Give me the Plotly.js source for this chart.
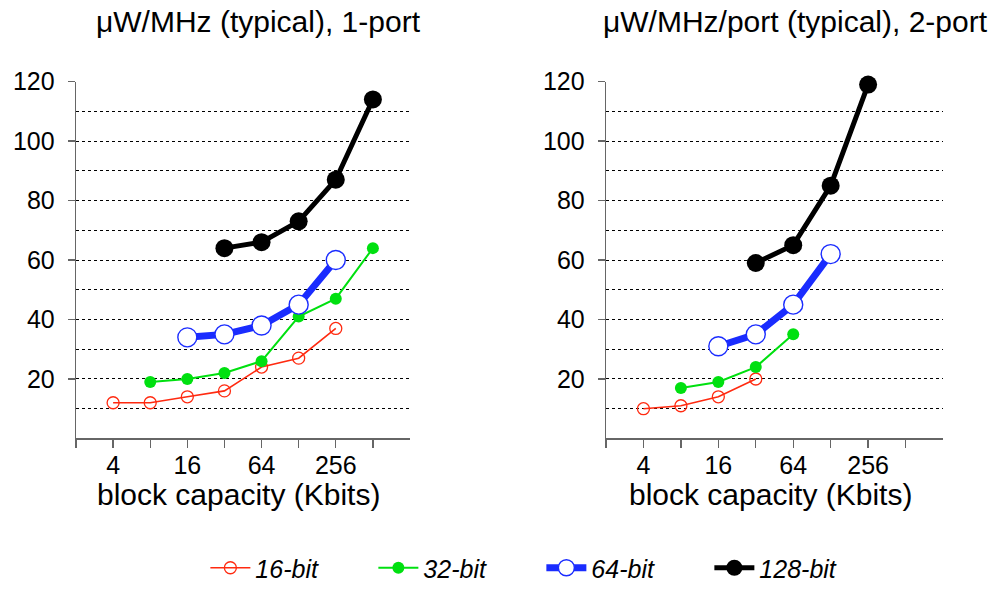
<!DOCTYPE html>
<html>
<head>
<meta charset="utf-8">
<script src="https://cdn.plot.ly/plotly-3.0.1.min.js"></script>
<style>html,body{margin:0;padding:0;background:#fff;}#chart{width:997px;height:591px;}</style>
</head>
<body>
<div id="chart"></div>
<script>
// Block capacity in Kbits (log2 axis)
const cap1 = {
  w16:  [4, 8, 16, 32, 64, 128, 256],
  w32:  [8, 16, 32, 64, 128, 256, 512],
  w64:  [16, 32, 64, 128, 256],
  w128: [32, 64, 128, 256, 512]
};
const cap2 = {
  w16:  [4, 8, 16, 32],
  w32:  [8, 16, 32, 64],
  w64:  [16, 32, 64, 128],
  w128: [32, 64, 128, 256]
};
// µW/MHz, single-port
const onePort16  = [12, 12, 14, 16, 24, 27, 37];
const onePort32  = [19, 20, 22, 26, 41, 47, 64];
const onePort64  = [34, 35, 38, 45, 60];
const onePort128 = [64, 66, 73, 87, 114];
// µW/MHz per port, dual-port
const twoPort16  = [10, 11, 14, 20];
const twoPort32  = [17, 19, 24, 35];
const twoPort64  = [31, 35, 45, 62];
const twoPort128 = [59, 65, 85, 119];

const seriesNames = ['16-bit', '32-bit', '64-bit', '128-bit'];
const xTickVals = [2, 4, 8, 16, 32, 64, 128, 256, 512];
const xTickText = ['', '4', '', '16', '', '64', '', '256', ''];
const yTickVals = [20, 40, 60, 80, 100, 120];

const styles = [
  {line: {color: '#ff2a10', width: 1.6}, marker: {symbol: 'circle-open', size: 12, color: '#ff2a10', line: {width: 1.3}}},
  {line: {color: '#00e010', width: 2}, marker: {symbol: 'circle', size: 12, color: '#00e010'}},
  {line: {color: '#1a2cff', width: 7}, marker: {symbol: 'circle', size: 19, color: '#ffffff', line: {color: '#1a2cff', width: 1.4}}},
  {line: {color: '#000000', width: 5}, marker: {symbol: 'circle', size: 18, color: '#000000'}}
];

function makeTrace(x, y, i, xa, ya, showLegend) {
  return Object.assign({
    type: 'scatter', mode: 'lines+markers', x: x, y: y,
    name: seriesNames[i], xaxis: xa, yaxis: ya,
    showlegend: showLegend, legendgroup: seriesNames[i], cliponaxis: false
  }, JSON.parse(JSON.stringify(styles[i])));
}

const traces = [
  makeTrace(cap1.w16, onePort16, 0, 'x', 'y', true),
  makeTrace(cap1.w32, onePort32, 1, 'x', 'y', true),
  makeTrace(cap1.w64, onePort64, 2, 'x', 'y', true),
  makeTrace(cap1.w128, onePort128, 3, 'x', 'y', true),
  makeTrace(cap2.w16, twoPort16, 0, 'x2', 'y2', false),
  makeTrace(cap2.w32, twoPort32, 1, 'x2', 'y2', false),
  makeTrace(cap2.w64, twoPort64, 2, 'x2', 'y2', false),
  makeTrace(cap2.w128, twoPort128, 3, 'x2', 'y2', false)
];

const W = 997, H = 591;
const fontFam = 'Liberation Sans, Arial, sans-serif';
const axisGrey = '#666';

function xAxis(left, right, anchor) {
  return {
    type: 'log', domain: [left / W, right / W], anchor: anchor,
    range: [Math.log10(2), Math.log10(1024)],
    tickvals: xTickVals, ticktext: xTickText,
    ticks: 'outside', ticklen: 8, tickcolor: axisGrey, tickwidth: 1.3,
    showline: true, linecolor: axisGrey, linewidth: 1.3,
    showgrid: false, zeroline: false,
    tickfont: {family: fontFam, size: 25, color: '#000'},
    ticklabelstandoff: -4,
    automargin: false
  };
}
function yAxis(anchor) {
  return {
    domain: [1 - 446 / H, 1 - 83 / H], anchor: anchor,
    range: [0, 120],
    tickvals: yTickVals,
    ticks: 'outside', ticklen: 7, tickcolor: axisGrey, tickwidth: 1.3,
    showline: true, linecolor: axisGrey, linewidth: 1.3,
    showgrid: true, gridcolor: '#000', gridwidth: 1, griddash: 'dot',
    minor: {dtick: 10, tick0: 0, showgrid: true, gridcolor: '#000', gridwidth: 1, griddash: 'dot', ticks: ''},
    zeroline: false,
    tickfont: {family: fontFam, size: 25, color: '#000'},
    ticklabelstandoff: 8,
    automargin: false
  };
}

const layout = {
  width: W, height: H,
  margin: {l: 0, r: 0, t: 0, b: 0},
  paper_bgcolor: '#fff', plot_bgcolor: '#fff',
  font: {family: fontFam, color: '#000'},
  xaxis: xAxis(76, 410, 'y'),
  yaxis: yAxis('x'),
  xaxis2: xAxis(606, 943, 'y2'),
  yaxis2: yAxis('x2'),
  showlegend: true,
  legend: {
    orientation: 'h', x: 0.543, xanchor: 'center', y: 1 - 578 / H, yanchor: 'middle',
    font: {family: fontFam, size: 25, color: '#000', style: 'italic'},
    itemwidth: 40, itemsizing: 'trace', traceorder: 'normal', entrywidth: 113
  },
  annotations: [
    {text: 'μW/MHz (typical), 1-port', x: 258 / W, y: 1 - 22 / H, xref: 'paper', yref: 'paper',
     xanchor: 'center', yanchor: 'middle', showarrow: false, font: {family: fontFam, size: 30}},
    {text: 'μW/MHz/port (typical), 2-port', x: 795 / W, y: 1 - 22 / H, xref: 'paper', yref: 'paper',
     xanchor: 'center', yanchor: 'middle', showarrow: false, font: {family: fontFam, size: 30}},
    {text: 'block capacity (Kbits)', x: 238 / W, y: 1 - 503 / H, xref: 'paper', yref: 'paper',
     xanchor: 'center', yanchor: 'middle', showarrow: false, font: {family: fontFam, size: 30}},
    {text: 'block capacity (Kbits)', x: 770 / W, y: 1 - 503 / H, xref: 'paper', yref: 'paper',
     xanchor: 'center', yanchor: 'middle', showarrow: false, font: {family: fontFam, size: 30}}
  ]
};

Plotly.newPlot('chart', traces, layout, {displayModeBar: false, staticPlot: true});
</script>
</body>
</html>
